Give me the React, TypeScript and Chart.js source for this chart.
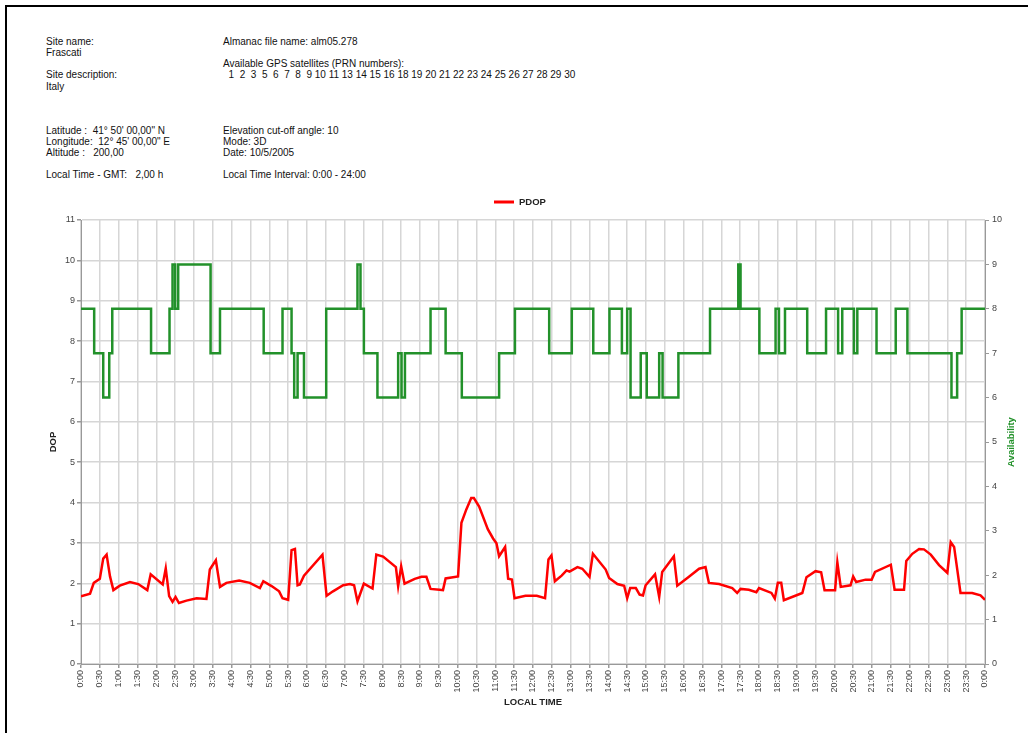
import React, { useEffect, useRef } from 'react';
import { Chart, registerables } from 'chart.js';

Chart.register(...registerables);

// ---- Data (time in hours, local time) ----
const pdopTimes = [
  0.0, 0.24, 0.34, 0.5, 0.59, 0.68, 0.77, 0.86, 1.03, 1.3, 1.52, 1.76, 1.85, 2.17, 2.25, 2.34, 2.43, 2.51, 2.6, 2.8,
  3.07, 3.33, 3.42, 3.58, 3.69, 3.86, 4.2, 4.48, 4.75, 4.84, 5.06, 5.26, 5.35, 5.5, 5.59, 5.68, 5.75, 5.81, 5.92, 6.41,
  6.52, 6.69, 6.96, 7.14, 7.25, 7.34, 7.42, 7.51, 7.74, 7.84, 8.02, 8.36, 8.42, 8.5, 8.59, 8.86, 9.04, 9.17, 9.28, 9.52,
  9.61, 9.68, 10.01, 10.1, 10.23, 10.36, 10.43, 10.57, 10.8, 10.94, 11.03, 11.1, 11.26, 11.34, 11.44, 11.51, 11.8, 12.1,
  12.32, 12.41, 12.49, 12.58, 12.76, 12.89, 12.97, 13.18, 13.31, 13.5, 13.59, 13.93, 14.02, 14.24, 14.42, 14.5, 14.58,
  14.73, 14.83, 14.92, 14.99, 15.24, 15.35, 15.43, 15.74, 15.83, 16.14, 16.41, 16.58, 16.67, 16.94, 17.29, 17.42, 17.51,
  17.73, 17.93, 18.0, 18.33, 18.42, 18.5, 18.59, 18.66, 19.15, 19.26, 19.5, 19.65, 19.74, 20.02, 20.08, 20.17, 20.43,
  20.5, 20.58, 20.83, 20.99, 21.08, 21.5, 21.6, 21.85, 21.91, 22.07, 22.25, 22.38, 22.56, 22.78, 23.0, 23.09, 23.18,
  23.35, 23.66, 23.88, 24.0,
];
const pdopValues = [
  1.68, 1.74, 2.01, 2.11, 2.61, 2.71, 2.17, 1.83, 1.94, 2.03, 1.98, 1.83, 2.22, 1.97, 2.37, 1.68, 1.54, 1.66, 1.51, 1.57,
  1.63, 1.61, 2.34, 2.57, 1.91, 2.01, 2.07, 2.01, 1.88, 2.05, 1.93, 1.8, 1.63, 1.59, 2.82, 2.85, 1.95, 1.97, 2.19, 2.71,
  1.69, 1.8, 1.95, 1.98, 1.95, 1.55, 1.76, 1.99, 1.87, 2.71, 2.66, 2.4, 1.93, 2.42, 1.99, 2.11, 2.16, 2.16, 1.86, 1.84,
  1.83, 2.12, 2.17, 3.5, 3.83, 4.11, 4.11, 3.9, 3.34, 3.11, 2.99, 2.67, 2.9, 2.11, 2.09, 1.63, 1.69, 1.69,
  1.63, 2.59, 2.69, 2.05, 2.19, 2.32, 2.29, 2.4, 2.36, 2.16, 2.73, 2.34, 2.13, 1.98, 1.94, 1.63, 1.88,
  1.88, 1.72, 1.7, 1.95, 2.22, 1.66, 2.28, 2.67, 1.94, 2.16, 2.36, 2.4, 2.01, 1.98, 1.88, 1.76, 1.86,
  1.84, 1.78, 1.88, 1.76, 1.62, 2.01, 2.01, 1.58, 1.76, 2.15, 2.3, 2.27, 1.83, 1.83, 2.52, 1.91, 1.95,
  2.17, 2.03, 2.09, 2.09, 2.28, 2.46, 1.84, 1.84, 2.55, 2.73, 2.85, 2.84, 2.71, 2.45, 2.26, 3.02, 2.9,
  1.76, 1.76, 1.7, 1.59,
];

const availTimes = [
  0.0, 0.35, 0.59, 0.75, 0.83, 1.86, 2.35, 2.43, 2.5, 2.58, 3.44, 3.69, 4.85, 5.35, 5.59, 5.66, 5.75, 5.92, 6.51, 7.34,
  7.42, 7.51, 7.87, 8.42, 8.51, 8.6, 9.28, 9.68, 10.11, 11.1, 11.52, 12.43, 13.03, 13.6, 14.03, 14.36, 14.5, 14.59,
  14.86, 15.02, 15.35, 15.44, 15.86, 16.7, 17.45, 17.51, 18.01, 18.44, 18.53, 18.69, 19.28, 19.78, 20.1, 20.21, 20.52,
  20.61, 21.12, 21.63, 21.94, 23.11, 23.26, 23.38, 24.0,
];
const availValues = [
  8, 7, 6, 7, 8, 7, 8, 9, 8, 9, 7, 8, 7, 8, 7, 6, 7, 6, 8, 9,
  8, 7, 6, 7, 6, 7, 8, 7, 6, 7, 8, 7, 8, 7, 8, 7, 8, 6,
  7, 6, 7, 6, 7, 8, 9, 8, 7, 8, 7, 8, 7, 8, 7, 8, 7,
  8, 7, 8, 7, 6, 7, 8, 8,
];

const prnNumbers = [1, 2, 3, 5, 6, 7, 8, 9, 10, 11, 13, 14, 15, 16, 18, 19, 20, 21, 22, 23, 24, 25, 26, 27, 28, 29, 30];

const legendLabel = 'PDOP';
const leftAxisTitle = 'DOP';
const rightAxisTitle = 'Availability';
const xAxisTitle = 'LOCAL TIME';

const FONT = '"Liberation Sans", Arial, Helvetica, sans-serif';
const RED = '#ff0000';
const GREEN = '#22912a';

function formatTime(v: number): string {
  const mins = Math.round(v * 60);
  const h = Math.floor(mins / 60) % 24;
  const m = mins % 60;
  return `${h}:${m < 10 ? '0' + m : m}`;
}

const customTitles = {
  id: 'customTitles',
  afterDraw(chart: any) {
    const { ctx, chartArea } = chart;
    const cy = (chartArea.top + chartArea.bottom) / 2;
    const cx = (chartArea.left + chartArea.right) / 2;
    ctx.save();
    // legend
    ctx.strokeStyle = RED;
    ctx.lineWidth = 3;
    ctx.beginPath();
    ctx.moveTo(494, chartArea.top - 18);
    ctx.lineTo(514, chartArea.top - 18);
    ctx.stroke();
    ctx.fillStyle = '#222';
    ctx.font = `bold 9.5px ${FONT}`;
    ctx.textAlign = 'left';
    ctx.textBaseline = 'middle';
    ctx.fillText(legendLabel, 519, chartArea.top - 18);
    // x title
    ctx.textAlign = 'center';
    ctx.font = `bold 9.5px ${FONT}`;
    ctx.fillText(xAxisTitle, cx, chartArea.bottom + 38);
    // left title
    ctx.save();
    ctx.translate(chartArea.left - 28, cy);
    ctx.rotate(-Math.PI / 2);
    ctx.font = `bold 9.5px ${FONT}`;
    ctx.fillStyle = '#222';
    ctx.fillText(leftAxisTitle, 0, 0);
    ctx.restore();
    // right title
    ctx.save();
    ctx.translate(chartArea.right + 26, cy);
    ctx.rotate(-Math.PI / 2);
    ctx.font = `bold 9.5px ${FONT}`;
    ctx.fillStyle = GREEN;
    ctx.fillText(rightAxisTitle, 0, 0);
    ctx.restore();
    ctx.restore();
  },
};

function PdopChart() {
  const ref = useRef<HTMLCanvasElement | null>(null);
  useEffect(() => {
    if (!ref.current) return;
    const pdopData = pdopTimes.map((t, i) => ({ x: t, y: pdopValues[i] }));
    const availData = availTimes.map((t, i) => ({ x: t, y: availValues[i] }));
    const tickFont = { family: FONT, size: 9 };
    const chart = new Chart(ref.current, {
      type: 'line',
      data: {
        datasets: [
          {
            label: rightAxisTitle,
            data: availData,
            yAxisID: 'y2',
            borderColor: GREEN,
            borderWidth: 2.5,
            pointRadius: 0,
            stepped: 'before',
            fill: false,
          },
          {
            label: legendLabel,
            data: pdopData,
            yAxisID: 'y',
            borderColor: RED,
            borderWidth: 2.5,
            pointRadius: 0,
            tension: 0,
            fill: false,
          },
        ],
      },
      options: {
        animation: false,
        responsive: true,
        maintainAspectRatio: false,
        layout: { padding: { top: 30, left: 0, right: 0, bottom: 0 } },
        plugins: { legend: { display: false }, tooltip: { enabled: false } },
        scales: {
          x: {
            type: 'linear',
            min: 0,
            max: 24,
            afterFit: (s: any) => {
              s.height = 69;
            },
            ticks: {
              stepSize: 0.5,
              autoSkip: false,
              minRotation: 90,
              maxRotation: 90,
              padding: 2,
              color: '#444',
              font: tickFont,
              callback: (v: any) => formatTime(Number(v)),
            },
            grid: { color: '#d6d6d6', lineWidth: 1.5, tickLength: 4, tickColor: '#999' },
            border: { color: '#999', width: 1 },
          },
          y: {
            position: 'left',
            min: 0,
            max: 11,
            afterFit: (s: any) => {
              s.width = 81;
            },
            ticks: { stepSize: 1, padding: 2, color: '#444', font: tickFont },
            grid: { color: '#d6d6d6', lineWidth: 1.5, tickLength: 4, tickColor: '#999' },
            border: { color: '#999', width: 1 },
          },
          y2: {
            position: 'right',
            min: 0,
            max: 10,
            afterFit: (s: any) => {
              s.width = 43;
            },
            ticks: { stepSize: 1, padding: 3, color: '#444', font: tickFont },
            grid: { drawOnChartArea: false, tickLength: 4, tickColor: '#999' },
            border: { color: '#999', width: 1 },
          },
        },
      },
      plugins: [customTitles],
    });
    return () => chart.destroy();
  }, []);
  return <canvas ref={ref} />;
}

const textStyle: React.CSSProperties = {
  position: 'absolute',
  fontFamily: FONT,
  fontSize: 10,
  lineHeight: '12px',
  whiteSpace: 'pre',
  color: '#111',
};

function T({ x, y, children }: { x: number; y: number; children: React.ReactNode }) {
  return <div style={{ ...textStyle, left: x, top: y }}>{children}</div>;
}

export default function App() {
  const prnLine = prnNumbers.map((n) => String(n).padStart(3, ' ')).join('');
  return (
    <div style={{ position: 'fixed', left: 0, top: 0, width: 1028, height: 733, overflow: 'hidden', background: '#fff' }}>
      <div
        style={{
          position: 'absolute',
          left: 5,
          top: 5,
          width: 1100,
          height: 800,
          borderTop: '2px solid #000',
          borderLeft: '2px solid #000',
        }}
      />
      <T x={46} y={36}>Site name:</T>
      <T x={46} y={47}>Frascati</T>
      <T x={46} y={69}>Site description:</T>
      <T x={46} y={81}>Italy</T>
      <T x={46} y={125}>{'Latitude :  41° 50\' 00,00" N'}</T>
      <T x={46} y={136}>{'Longitude:  12° 45\' 00,00" E'}</T>
      <T x={46} y={147}>{'Altitude :   200,00'}</T>
      <T x={46} y={169}>{'Local Time - GMT:   2,00 h'}</T>

      <T x={223} y={36}>Almanac file name: alm05.278</T>
      <T x={223} y={58}>Available GPS satellites (PRN numbers):</T>
      <T x={223} y={69}>{prnLine}</T>
      <T x={223} y={125}>Elevation cut-off angle: 10</T>
      <T x={223} y={136}>Mode: 3D</T>
      <T x={223} y={147}>Date: 10/5/2005</T>
      <T x={223} y={169}>Local Time Interval: 0:00 - 24:00</T>

      <div style={{ position: 'absolute', left: 0, top: 190, width: 1028, height: 543 }}>
        <PdopChart />
      </div>
    </div>
  );
}
